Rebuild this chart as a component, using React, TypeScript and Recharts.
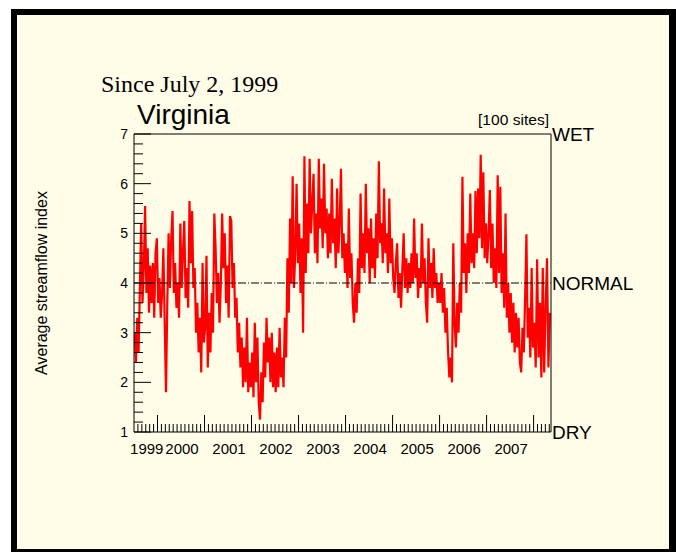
import { LineChart, Line, XAxis, YAxis, ReferenceLine } from 'recharts';

// streamflow index, ~3 readings per month
const v1999 = [3.0, 2.4, 3.3, 2.6, 3.9, 5.2, 3.6, 4.3, 5.55, 3.8, 4.7, 3.4, 4.35, 3.6, 4.4, 3.3, 4.6, 4.9];
const v2000 = [3.6, 4.1, 3.3, 3.8, 4.7, 3.2, 1.8, 3.6, 5.0, 3.9, 4.9, 5.45, 3.8, 4.4, 3.5, 4.0, 3.3, 5.2,
  3.9, 4.6, 5.25, 3.7, 4.3, 3.5, 5.65, 4.4, 5.45, 3.9, 4.3, 3.0, 3.6, 2.6, 3.3, 2.2, 4.4, 2.8];
const v2001 = [3.1, 4.55, 2.3, 3.4, 2.6, 3.8, 3.0, 5.4, 4.7, 3.6, 4.2, 3.2, 4.0, 5.4, 4.3, 5.0, 3.6, 4.35,
  3.3, 5.35, 5.25, 3.9, 4.4, 3.3, 3.7, 2.6, 3.2, 2.3, 2.9, 1.9, 2.7, 2.0, 3.3, 1.8, 2.4, 1.9];
const v2002 = [2.6, 1.7, 3.2, 2.0, 2.9, 1.6, 1.25, 2.2, 1.6, 2.8, 2.1, 3.3, 2.4, 2.9, 2.0, 3.0, 1.9, 2.6,
  1.8, 2.7, 1.9, 3.1, 2.1, 2.5, 1.9, 3.3, 2.5, 4.5, 3.4, 5.3, 4.0, 6.15, 3.9, 4.6, 6.0, 4.4];
const v2003 = [5.2, 3.8, 4.9, 3.0, 6.55, 4.2, 5.6, 4.6, 6.5, 5.0, 5.6, 6.2, 4.6, 5.4, 4.4, 6.5, 5.1, 5.7,
  4.7, 6.4, 5.0, 5.5, 4.5, 5.4, 4.6, 6.1, 4.8, 5.3, 4.3, 5.9, 4.6, 5.2, 6.3, 4.5, 5.0, 4.2];
const v2004 = [4.8, 3.9, 5.5, 4.1, 4.6, 3.6, 3.2, 4.0, 3.4, 4.5, 3.8, 5.8, 4.3, 5.0, 4.2, 6.0, 4.6, 5.1,
  4.0, 5.3, 4.3, 4.9, 4.1, 5.4, 4.5, 6.45, 4.8, 5.2, 4.4, 5.9, 4.6, 5.0, 4.2, 5.7, 4.4, 4.9];
const v2005 = [4.1, 3.8, 4.4, 4.8, 3.7, 4.2, 3.5, 4.3, 5.0, 3.9, 4.5, 3.8, 4.4, 3.9, 4.6, 4.0, 5.3, 4.1,
  4.6, 3.7, 4.3, 3.9, 5.2, 4.0, 4.5, 3.6, 3.2, 4.9, 3.9, 4.4, 3.7, 4.7, 3.9, 4.2, 3.6, 4.0];
const v2006 = [3.6, 4.2, 3.4, 3.9, 3.0, 3.5, 2.6, 2.1, 2.5, 2.0, 4.8, 3.2, 2.7, 3.6, 3.0, 4.0, 3.4, 6.14,
  4.2, 4.8, 3.8, 5.0, 4.2, 5.8, 4.4, 5.0, 4.3, 5.85, 4.6, 5.9, 4.9, 6.58, 4.7, 6.23, 4.5, 5.2];
const v2007 = [4.4, 5.0, 5.87, 4.3, 5.2, 4.0, 4.7, 3.9, 6.17, 4.2, 5.94, 3.8, 4.6, 3.5, 5.4, 3.3, 4.0, 3.0,
  3.8, 2.8, 3.6, 2.6, 3.4, 2.7, 3.3, 2.4, 2.2, 3.1, 2.6, 3.7, 4.98, 2.9, 3.5, 2.5, 4.3, 2.7];
const v2008 = [3.2, 2.3, 4.48, 2.5, 3.6, 2.1, 4.3, 2.2, 3.5, 4.5, 2.3, 3.4];

// [start, end] in decimal years for each block of readings
const spans: [number, number, number[]][] = [
  [1999.5, 2000, v1999],
  [2000, 2001, v2000],
  [2001, 2002, v2001],
  [2002, 2003, v2002],
  [2003, 2004, v2003],
  [2004, 2005, v2004],
  [2005, 2006, v2005],
  [2006, 2007, v2006],
  [2007, 2008, v2007],
  [2008, 2008.36, v2008],
];

const yTicks = [1, 1.2, 1.4, 1.6, 1.8, 2, 2.2, 2.4, 2.6, 2.8, 3, 3.2, 3.4, 3.6, 3.8, 4, 4.2, 4.4, 4.6, 4.8,
  5, 5.2, 5.4, 5.6, 5.8, 6, 6.2, 6.4, 6.6, 6.8, 7];
const years = [1999, 2000, 2001, 2002, 2003, 2004, 2005, 2006, 2007, 2008];
const levelTicks = [1, 4, 7];
const levelNames: Record<number, string> = { 1: 'DRY', 4: 'NORMAL', 7: 'WET' };

const data = spans.flatMap(([a, b, vals]) =>
  vals.map((v, i) => ({ t: a + ((i + 0.5) * (b - a)) / vals.length, v }))
);

const X0 = 1999.5;
const X1 = 2008.37;
const xTicks: number[] = [];
years.forEach((y) => {
  for (let m = 0; m < 12; m++) {
    const t = y + m / 12;
    if (t > X0 + 0.01 && t < X1) xTicks.push(t);
  }
});

const sans = "'Liberation Sans', Arial, sans-serif";

function MonthTick(props: any) {
  const { x, y, payload } = props;
  const idx = Math.round((payload.value - 1999) * 12);
  const m = idx % 12;
  const yr = 1999 + Math.floor(idx / 12);
  const len = m === 0 ? 17 : 8;
  const showLabel = (m === 6 && yr >= 2000) || (yr === 1999 && m === 9);
  return (
    <g>
      <line x1={x} y1={y} x2={x} y2={y - len} stroke="#000" strokeWidth={1} />
      {showLabel && (
        <text x={x + 1} y={y + 22} textAnchor="middle" fontSize={15} fontFamily={sans} fill="#000">
          {yr}
        </text>
      )}
    </g>
  );
}

function IndexTick(props: any) {
  const { x, y, payload } = props;
  const v = payload.value;
  const major = Math.abs(v - Math.round(v)) < 1e-6;
  return (
    <g>
      <line x1={x} y1={y} x2={x + (major ? 17 : 9)} y2={y} stroke="#000" strokeWidth={1} />
      {major && (
        <text x={x - 6} y={y + 5} textAnchor="end" fontSize={14} fontFamily={sans} fill="#000">
          {Math.round(v)}
        </text>
      )}
    </g>
  );
}

function LevelTick(props: any) {
  const { x, y, payload } = props;
  return (
    <text x={x + 1} y={y + 7} textAnchor="start" fontSize={19} fontFamily={sans} fill="#000">
      {levelNames[payload.value]}
    </text>
  );
}

export default function App() {
  return (
    <div style={{ position: 'absolute', left: 0, top: 0, width: 676, height: 552, background: '#fff' }}>
      <div style={{ position: 'absolute', left: 11, top: 9, width: 665, height: 543, background: '#000' }} />
      <div style={{ position: 'absolute', left: 17, top: 15, width: 652, height: 534, background: '#fffde7' }} />
      <div style={{ position: 'absolute', left: 0, top: 0 }}>
        <LineChart width={676} height={552} data={data} margin={{ top: 134, right: 45, bottom: 80, left: 74 }}>
          <XAxis
            dataKey="t"
            type="number"
            domain={[X0, X1]}
            ticks={xTicks}
            interval={0}
            height={40}
            tickSize={0}
            tickMargin={0}
            tickLine={false}
            tick={MonthTick}
            axisLine={{ stroke: '#000' }}
            allowDataOverflow
          />
          <YAxis
            yAxisId="left"
            type="number"
            domain={[1, 7]}
            ticks={yTicks}
            interval={0}
            width={60}
            tickSize={0}
            tickMargin={0}
            tickLine={false}
            tick={IndexTick}
            axisLine={{ stroke: '#000' }}
            allowDataOverflow
          />
          <YAxis
            yAxisId="right"
            orientation="right"
            type="number"
            domain={[1, 7]}
            ticks={levelTicks}
            interval={0}
            width={80}
            tickSize={0}
            tickMargin={0}
            tickLine={false}
            tick={LevelTick}
            axisLine={{ stroke: '#000' }}
            allowDataOverflow
          />
          <Line
            yAxisId="left"
            dataKey="v"
            type="linear"
            stroke="#ff0000"
            strokeWidth={2.2}
            strokeLinejoin="miter"
            dot={false}
            activeDot={false}
            isAnimationActive={false}
          />
          <ReferenceLine yAxisId="left" y={4} stroke="#000" strokeWidth={1} strokeDasharray="8 2 1 2" />
          <ReferenceLine yAxisId="left" y={7} stroke="#000" strokeWidth={1} />
        </LineChart>
      </div>
      <svg width={676} height={552} style={{ position: 'absolute', left: 0, top: 0, pointerEvents: 'none' }}>
        <text x={101} y={92} fontSize={24} fontFamily="'Liberation Serif', 'Times New Roman', serif" fill="#000">
          Since July 2, 1999
        </text>
        <text x={137} y={124} fontSize={28} fontFamily={sans} fill="#000">
          Virginia
        </text>
        <text x={549} y={125} textAnchor="end" fontSize={15} fontFamily={sans} fill="#000" textLength={71} lengthAdjust="spacingAndGlyphs">
          [100 sites]
        </text>
        <text
          x={41}
          y={283}
          textAnchor="middle"
          dominantBaseline="central"
          fontSize={16}
          fontFamily={sans}
          fill="#000"
          transform="rotate(-90 41 283)"
        >
          Average streamflow index
        </text>
      </svg>
    </div>
  );
}
